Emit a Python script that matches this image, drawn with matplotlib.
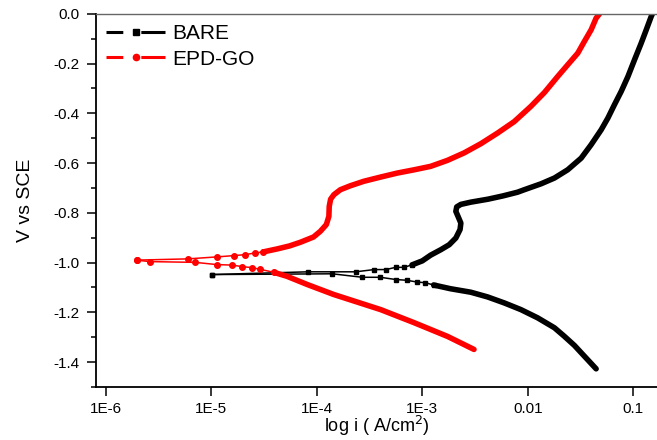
import numpy as np
import matplotlib
matplotlib.use("Agg")
import matplotlib.pyplot as plt
from matplotlib.lines import Line2D
from matplotlib.ticker import FixedLocator, FixedFormatter, MultipleLocator, FormatStrFormatter, NullLocator

plt.rcParams['font.family'] = ['Liberation Sans', 'DejaVu Sans']

# BARE - anodic branch (from Ecorr outward)
bare_an_i = [1.01e-5, 8.3e-5, 2.33e-4, 3.5e-4, 4.5e-4, 5.6e-4, 6.7e-4, 8.0e-4,
             1.0e-3, 1.2e-3, 1.5e-3, 1.8e-3, 2.08e-3, 2.28e-3, 2.32e-3, 2.18e-3, 2.08e-3,
             2.12e-3, 2.32e-3, 2.88e-3, 4.2e-3, 5.8e-3, 8.0e-3, 9.27e-3, 0.0134, 0.0179,
             0.0239, 0.0321, 0.0399, 0.0497, 0.0575, 0.0664, 0.0769, 0.0891, 0.1028,
             0.119, 0.133, 0.148, 0.152]
bare_an_v = [-1.048, -1.037, -1.037, -1.028, -1.028, -1.019, -1.019, -1.009,
             -0.993, -0.970, -0.948, -0.928, -0.901, -0.867, -0.841, -0.814, -0.794,
             -0.776, -0.766, -0.757, -0.745, -0.732, -0.717, -0.707, -0.683, -0.660,
             -0.627, -0.580, -0.526, -0.466, -0.419, -0.365, -0.312, -0.252, -0.185,
             -0.118, -0.064, -0.011, 0.0]
# BARE - cathodic branch
bare_ca_i = [1.01e-5, 1.4e-4, 2.7e-4, 4.0e-4, 5.6e-4, 7.1e-4, 8.9e-4, 1.07e-3,
             1.28e-3, 1.85e-3, 2.88e-3, 4.16e-3, 5.98e-3, 8.61e-3, 0.0124, 0.0179,
             0.0222, 0.0277, 0.0344, 0.0445]
bare_ca_v = [-1.048, -1.045, -1.059, -1.059, -1.068, -1.071, -1.078, -1.081,
             -1.09, -1.105, -1.119, -1.138, -1.162, -1.189, -1.222, -1.262,
             -1.296, -1.333, -1.376, -1.427]

# EPD-GO - anodic branch
go_an_i = [1.95e-6, 6.0e-6, 1.13e-5, 1.62e-5, 2.09e-5, 2.6e-5, 3.1e-5,
           4.2e-5, 5.5e-5, 7.0e-5, 9.3e-5, 1.08e-4, 1.23e-4, 1.3e-4, 1.31e-4, 1.35e-4,
           1.45e-4, 1.67e-4, 2.08e-4, 2.79e-4, 4.03e-4, 5.79e-4, 8.34e-4, 1.2e-3,
           1.73e-3, 2.49e-3, 3.59e-3, 5.18e-3, 7.45e-3, 0.0107, 0.0144, 0.0192,
           0.0239, 0.0298, 0.0344, 0.0399, 0.0445, 0.0479]
go_an_v = [-0.99, -0.985, -0.977, -0.972, -0.968, -0.961, -0.957,
           -0.945, -0.933, -0.918, -0.897, -0.874, -0.847, -0.814, -0.774, -0.745,
           -0.727, -0.707, -0.691, -0.673, -0.656, -0.640, -0.627, -0.613,
           -0.589, -0.559, -0.522, -0.479, -0.433, -0.372, -0.316, -0.252,
           -0.205, -0.158, -0.111, -0.064, -0.017, 0.0]
# EPD-GO - cathodic branch
go_ca_i = [1.95e-6, 2.6e-6, 7.0e-6, 1.13e-5, 1.57e-5, 1.95e-5, 2.4e-5, 2.9e-5,
           3.9e-5, 5.2e-5, 8.1e-5, 1.44e-4, 4.03e-4, 8.3e-4, 1.74e-3, 3.09e-3]
go_ca_v = [-0.99, -0.996, -0.999, -1.008, -1.010, -1.016, -1.02, -1.027,
           -1.039, -1.055, -1.088, -1.128, -1.189, -1.241, -1.297, -1.349]

xtick_vals = [1e-6, 1e-5, 1e-4, 1e-3, 1e-2, 1e-1]
xtick_labels = ['1E-6', '1E-5', '1E-4', '1E-3', '0.01', '0.1']

fig = plt.figure(figsize=(6.57, 4.40), dpi=100)
ax = fig.add_axes([0.146, 0.1205, 0.856, 0.848])


def draw_branch(i, v, dense_from, color, marker, ms):
    # thin line + markers where points are sparse, thick band where they overlap
    ax.plot(i[:dense_from + 1], v[:dense_from + 1], '-', color=color, lw=1.1,
            marker=marker, ms=ms, mec=color, mfc=color)
    ax.plot(i[dense_from:], v[dense_from:], '-', color=color, lw=4.0,
            solid_capstyle='round', solid_joinstyle='round')


draw_branch(bare_an_i, bare_an_v, 7, 'black', 's', 3.4)
draw_branch(bare_ca_i, bare_ca_v, 8, 'black', 's', 3.4)
draw_branch(go_an_i, go_an_v, 6, 'red', 'o', 4.0)
draw_branch(go_ca_i, go_ca_v, 8, 'red', 'o', 4.0)

ax.set_xscale('log')
ax.set_xlim(8.03e-7, 0.173)
ax.set_ylim(-1.5, 0.0)

ax.xaxis.set_major_locator(FixedLocator(xtick_vals))
ax.xaxis.set_major_formatter(FixedFormatter(xtick_labels))
ax.xaxis.set_minor_locator(NullLocator())
ax.yaxis.set_major_locator(MultipleLocator(0.2))
ax.yaxis.set_minor_locator(MultipleLocator(0.1))
ax.yaxis.set_major_formatter(FormatStrFormatter('%.1f'))

ax.tick_params(axis='both', which='major', direction='out', length=6.5, width=1.1,
               labelsize=11, pad=5)
ax.tick_params(axis='x', which='major', pad=4)
ax.tick_params(axis='y', which='minor', direction='out', length=3.5, width=1.1)

for s in ['left', 'bottom']:
    ax.spines[s].set_linewidth(1.3)
ax.spines['top'].set_color('#666666')
ax.spines['top'].set_linewidth(1.0)
ax.spines['right'].set_visible(False)

ax.set_xlabel('log i ( A/cm$^2$)', fontsize=13, labelpad=-1)
ax.set_ylabel('V vs SCE', fontsize=14, labelpad=14)

handles = [
    Line2D([], [], color='black', lw=2.2, marker='s', ms=4.5, linestyle=(0, (5.5, 5.9, 13.6, 5))),
    Line2D([], [], color='red', lw=2.2, marker='o', ms=4.5, linestyle=(0, (5.5, 5.9, 13.6, 5))),
]
ax.legend(handles, ['BARE', 'EPD-GO'], loc='upper left', frameon=False, fontsize=15,
          handlelength=2.8, handletextpad=0.35, borderaxespad=0.0, borderpad=0.5,
          labelspacing=0.3)

fig.savefig('out.png', dpi=100)
